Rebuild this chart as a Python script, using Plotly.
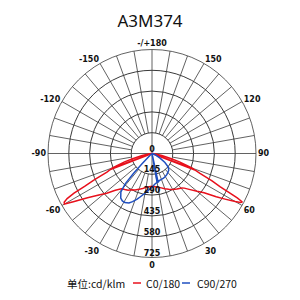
import plotly.graph_objects as go

# ---- data ----
title_text = "A3M374"
radial_ticks = [145, 290, 435, 580, 725]
radial_labels = ["0", "145", "290", "435", "580", "725"]
angle_tickvals = [0, 30, 60, 90, 120, 150, 180, 210, 240, 270, 300, 330]
angle_ticktext = ["0", "30", "60", "90", "120", "150", "-/+180",
                  "-150", "-120", "-90", "-60", "-30"]

c0_theta = [-90, -86, -82, -78, -75, -73, -71, -69.6, -69.3, -69, -67.5, -65.5, -64, -63, -62, -61, -60,
            -58.5, -55.5, -52, -48.7, -45, -41, -37, -33, -30, -25, -20, -15, -10, -5,
            0, 5, 10, 15, 20, 25, 30, 35, 38, 41, 43, 46, 50, 53, 56, 58, 60, 61, 61.8,
            62.5, 63.2, 64, 65.5, 67.5, 69, 69.3, 69.6, 71, 73, 75, 78, 82, 86, 90]
c0_r = [0, 5, 25, 70, 140, 200, 255, 300, 0, 310, 340, 440, 520, 610, 670, 700, 705,
        643, 545, 470, 420, 362, 325, 315, 305, 292, 280, 266, 252, 240, 232,
        228, 232, 238, 248, 262, 275, 290, 303, 310, 318, 330, 360, 410, 455, 540, 600, 670, 705, 715,
        670, 600, 527, 460, 362, 320, 0, 310, 260, 200, 140, 70, 25, 5, 0]

c90_theta = [-90, -60, -48, -44, -43, -41.5, -39, -35, -32, -29, -25, -22, -18, -15,
             -10, -5, 0, 5, 10, 11, 12, 15, 20, 25, 30, 35, 40, 45, 50, 55, 60, 70, 80, 90]
c90_r = [0, 0, 20, 100, 190, 280, 345, 380, 390, 391, 380, 362, 335, 312,
         280, 255, 235, 215, 205, 0, 205, 196, 192, 190, 185, 180, 172, 165, 148, 110, 65, 20, 5, 0]

unit_label = "单位:cd/klm"
series_names = ["C0/180", "C90/270"]
series_colors = ["#e8101c", "#1f4fc0"]

GRID = "#3a3a3a"
RMAX = radial_ticks[-1]

fig = go.Figure()

# custom spokes: every 10 deg, main axes through centre, others start at first ring
sp_t, sp_r = [], []
for a in range(0, 360, 10):
    r0 = 0 if a % 90 == 0 else radial_ticks[0]
    sp_t += [a, a, None]
    sp_r += [r0, RMAX, None]
fig.add_trace(go.Scatterpolar(theta=sp_t, r=sp_r, mode="lines",
                              line=dict(color=GRID, width=0.8),
                              hoverinfo="skip", showlegend=False))

fig.add_trace(go.Scatterpolar(theta=c0_theta, r=c0_r, mode="lines", name=series_names[0],
                              line=dict(color=series_colors[0], width=1.5),
                              showlegend=False))
fig.add_trace(go.Scatterpolar(theta=c90_theta, r=c90_r, mode="lines", name=series_names[1],
                              line=dict(color=series_colors[1], width=1.5),
                              showlegend=False))

# radial value labels along the 0° direction
fig.add_trace(go.Scatterpolar(theta=[0] * len(radial_labels),
                              r=[0] + radial_ticks, mode="text",
                              text=radial_labels, textposition="top center",
                              textfont=dict(family="DejaVu Sans", size=8, color="#111", weight="bold"),
                              hoverinfo="skip", showlegend=False))

fig.update_layout(
    width=300, height=300,
    margin=dict(l=0, r=0, t=0, b=0),
    paper_bgcolor="white",
    plot_bgcolor="white",
    title=dict(text=title_text, x=0.5, xanchor="center", y=1 - 21 / 300, yanchor="middle",
               font=dict(family="Noto Sans", size=17, color="#111")),
    polar=dict(
        domain=dict(x=[48 / 300, 256 / 300], y=[1 - 257.5 / 300, 1 - 49.5 / 300]),
        bgcolor="white",
        radialaxis=dict(range=[0, RMAX], tickvals=radial_ticks, showticklabels=False,
                        ticks="", showline=False, gridcolor=GRID, gridwidth=0.8),
        angularaxis=dict(rotation=270, direction="counterclockwise",
                         tickmode="array", tickvals=angle_tickvals, ticktext=angle_ticktext,
                         ticks="", showgrid=False, showline=True, linecolor=GRID, linewidth=0.8,
                         tickfont=dict(family="DejaVu Sans", size=8, color="#111", weight="bold")),
    ),
)

# legend row drawn as annotations + short line shapes
ly = 1 - 283 / 300
fig.add_annotation(x=95.5 / 300, y=ly, xref="paper", yref="paper", text=unit_label,
                   showarrow=False, xanchor="center", yanchor="middle",
                   font=dict(family="Noto Sans CJK SC", size=10.5, color="#111"))
fig.add_shape(type="line", xref="paper", yref="paper", x0=133 / 300, x1=141 / 300, y0=ly, y1=ly,
              line=dict(color=series_colors[0], width=1.5))
fig.add_annotation(x=144 / 300, y=ly, xref="paper", yref="paper", text=series_names[0],
                   showarrow=False, xanchor="left", yanchor="middle",
                   font=dict(family="Noto Sans CJK SC", size=10.5, color="#111"))
fig.add_shape(type="line", xref="paper", yref="paper", x0=182 / 300, x1=190 / 300, y0=ly, y1=ly,
              line=dict(color=series_colors[1], width=1.5))
fig.add_annotation(x=195 / 300, y=ly, xref="paper", yref="paper", text=series_names[1],
                   showarrow=False, xanchor="left", yanchor="middle",
                   font=dict(family="Noto Sans CJK SC", size=10.5, color="#111"))

fig.write_html("out.html")
